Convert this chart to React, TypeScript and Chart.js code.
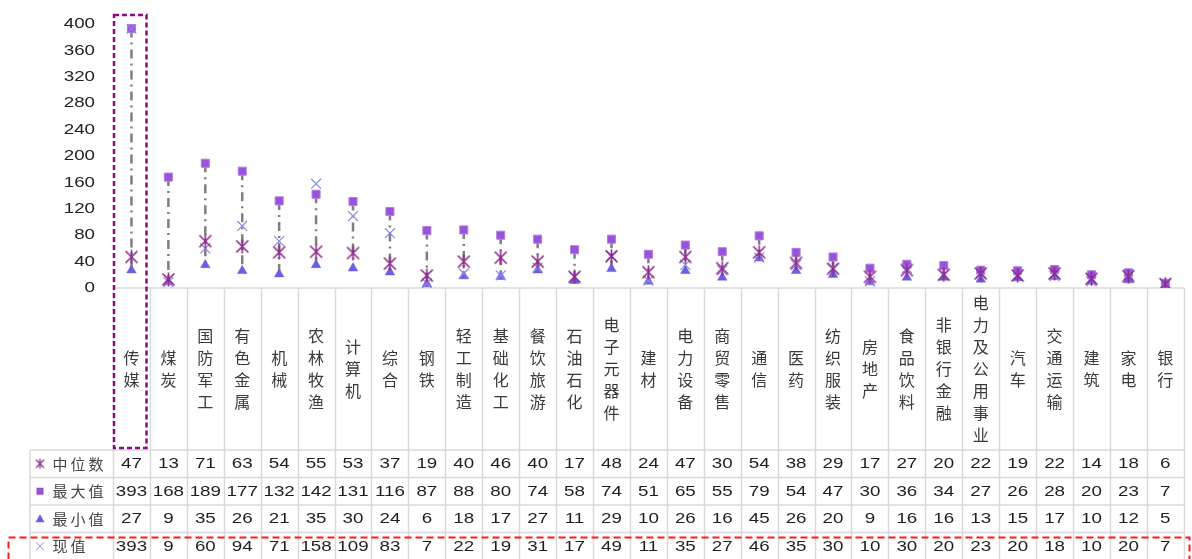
import React, { useEffect, useRef } from "react";
import { Chart, registerables } from "chart.js";

Chart.register(...registerables);

const categories = ["传媒","煤炭","国防军工","有色金属","机械","农林牧渔","计算机","综合","钢铁","轻工制造","基础化工","餐饮旅游","石油石化","电子元器件","建材","电力设备","商贸零售","通信","医药","纺织服装","房地产","食品饮料","非银行金融","电力及公用事业","汽车","交通运输","建筑","家电","银行"];
const medianVals = [47,13,71,63,54,55,53,37,19,40,46,40,17,48,24,47,30,54,38,29,17,27,20,22,19,22,14,18,6];
const maxVals = [393,168,189,177,132,142,131,116,87,88,80,74,58,74,51,65,55,79,54,47,30,36,34,27,26,28,20,23,7];
const minVals = [27,9,35,26,21,35,30,24,6,18,17,27,11,29,10,26,16,45,26,20,9,16,16,13,15,17,10,12,5];
const currentVals = [393,9,60,94,71,158,109,83,7,22,19,31,17,49,11,35,27,46,35,30,10,30,20,23,20,18,10,20,7];
const seriesNames = ["中位数","最大值","最小值","现值"];
const yTicks = [0,40,80,120,160,200,240,280,320,360,400];

const STAR_COLOR = "#8f2a8c";
const SQUARE_COLOR = "#9b52da";
const TRI_COLOR = "#6f5ce0";
const CROSS_COLOR = "#8a8ae6";
const GRID = "#d9d9d9";

function makeStar(size: number, lw: number): HTMLCanvasElement {
  const c = document.createElement("canvas");
  c.width = size; c.height = size;
  const g = c.getContext("2d")!;
  g.strokeStyle = STAR_COLOR; g.lineWidth = lw; g.lineCap = "butt";
  const m = size / 2, d = size / 2 - 1.5;
  g.beginPath();
  g.moveTo(m - d, m - d); g.lineTo(m + d, m + d);
  g.moveTo(m + d, m - d); g.lineTo(m - d, m + d);
  g.moveTo(m, 0.5); g.lineTo(m, size - 0.5);
  g.stroke();
  return c;
}

function stretchText(ctx: CanvasRenderingContext2D, text: string, x: number, y: number, align: "center" | "right", sx: number) {
  ctx.save();
  ctx.translate(x, y);
  ctx.scale(sx, 1);
  ctx.textAlign = align;
  ctx.textBaseline = "middle";
  ctx.fillText(text, 0, 0);
  ctx.restore();
}

export default function App() {
  const ref = useRef<HTMLCanvasElement>(null);
  useEffect(() => {
    const canvas = ref.current!;
    const star = makeStar(15, 1.6);
    const smallStar = makeStar(11, 1.3);

    const hiLowPlugin = {
      id: "hilow",
      beforeDatasetsDraw(chart: any) {
        const ctx = chart.ctx as CanvasRenderingContext2D;
        const xs = chart.scales.x, ys = chart.scales.y;
        ctx.save();
        ctx.strokeStyle = "#7f7f7f";
        ctx.lineWidth = 2.5;
        ctx.setLineDash([9, 5, 2, 5]);
        for (let i = 0; i < categories.length; i++) {
          const x = xs.getPixelForValue(i);
          ctx.beginPath();
          ctx.moveTo(x, ys.getPixelForValue(maxVals[i]));
          ctx.lineTo(x, ys.getPixelForValue(minVals[i]));
          ctx.stroke();
        }
        ctx.restore();
      },
    };

    const tablePlugin = {
      id: "table",
      beforeDatasetsDraw(chart: any) {
        const ctx = chart.ctx as CanvasRenderingContext2D;
        const xs = chart.scales.x, ys = chart.scales.y;
        const area = chart.chartArea;
        const n = categories.length;
        const w = (area.right - area.left) / n;
        const bottom = area.bottom;
        const rowTop = 450;
        const rowH = 27.5;
        const tableLeft = 30;
        ctx.save();
        // y tick labels
        ctx.fillStyle = "#222";
        ctx.font = "15px 'Liberation Sans', Arial, sans-serif";
        for (const v of yTicks) {
          stretchText(ctx, String(v), 95, ys.getPixelForValue(v), "right", 1.25);
        }
        // grid lines
        ctx.strokeStyle = GRID;
        ctx.lineWidth = 1.5;
        ctx.beginPath();
        ctx.moveTo(area.left, bottom); ctx.lineTo(area.right, bottom);
        for (let i = 0; i <= n; i++) {
          const x = Math.round(area.left + i * w) + 0.5;
          ctx.moveTo(x, bottom); ctx.lineTo(x, 560);
        }
        ctx.moveTo(tableLeft, rowTop); ctx.lineTo(tableLeft, 560);
        for (let r = 0; r < 4; r++) {
          const y = rowTop + r * rowH;
          ctx.moveTo(tableLeft, y); ctx.lineTo(area.right, y);
        }
        ctx.stroke();
        // category labels (vertical)
        ctx.fillStyle = "#3a3a3a";
        ctx.font = "16px 'Noto Sans CJK SC', sans-serif";
        ctx.textAlign = "center";
        ctx.textBaseline = "middle";
        const midY = (bottom + rowTop) / 2;
        for (let i = 0; i < n; i++) {
          const x = xs.getPixelForValue(i);
          const chars = Array.from(categories[i]);
          chars.forEach((ch, k) => {
            ctx.fillText(ch, x, midY + (k - (chars.length - 1) / 2) * 22);
          });
        }
        // table values
        const rows = [medianVals, maxVals, minVals, currentVals];
        ctx.fillStyle = "#1e1e1e";
        ctx.font = "15px 'Liberation Sans', Arial, sans-serif";
        rows.forEach((vals, r) => {
          const cy = rowTop + r * rowH + rowH / 2 + 0.5;
          vals.forEach((v, i) => {
            stretchText(ctx, String(v), xs.getPixelForValue(i), cy, "center", 1.25);
          });
        });
        // legend column
        ctx.font = "15px 'Noto Sans CJK SC', sans-serif";
        ctx.fillStyle = "#444";
        seriesNames.forEach((name, r) => {
          const cy = rowTop + r * rowH + rowH / 2;
          Array.from(name).forEach((ch, k) => {
            ctx.textAlign = "center";
            ctx.fillText(ch, 60 + k * 18, cy + 0.5);
          });
          const mx = 40;
          if (r === 0) {
            ctx.drawImage(smallStar, mx - 5.5, cy - 5.5);
          } else if (r === 1) {
            ctx.fillStyle = SQUARE_COLOR;
            ctx.fillRect(mx - 3.5, cy - 3.5, 7, 7);
            ctx.fillStyle = "#444";
          } else if (r === 2) {
            ctx.fillStyle = TRI_COLOR;
            ctx.beginPath();
            ctx.moveTo(mx, cy - 4.5); ctx.lineTo(mx + 4.5, cy + 3.5); ctx.lineTo(mx - 4.5, cy + 3.5);
            ctx.closePath(); ctx.fill();
            ctx.fillStyle = "#444";
          } else {
            ctx.strokeStyle = CROSS_COLOR;
            ctx.lineWidth = 1;
            ctx.beginPath();
            ctx.moveTo(mx - 4, cy - 4); ctx.lineTo(mx + 4, cy + 4);
            ctx.moveTo(mx + 4, cy - 4); ctx.lineTo(mx - 4, cy + 4);
            ctx.stroke();
          }
        });
        ctx.restore();
      },
      afterDatasetsDraw(chart: any) {
        const ctx = chart.ctx as CanvasRenderingContext2D;
        ctx.save();
        ctx.lineWidth = 2.5;
        ctx.strokeStyle = "#8b0a8b";
        ctx.setLineDash([5, 3]);
        ctx.strokeRect(114, 15, 32.5, 433);
        ctx.strokeStyle = "#ff1a1a";
        ctx.lineWidth = 2;
        ctx.setLineDash([7, 4]);
        ctx.strokeRect(8.5, 537.5, 1181, 40);
        ctx.restore();
      },
    };

    const chart = new Chart(canvas, {
      type: "line",
      data: {
        labels: categories,
        datasets: [
          { label: seriesNames[0], data: medianVals, showLine: false, pointStyle: star as any, pointRadius: 7, borderColor: STAR_COLOR, backgroundColor: STAR_COLOR },
          { label: seriesNames[3], data: currentVals, showLine: false, pointStyle: "crossRot", pointRadius: 7, borderWidth: 1.2, pointBorderWidth: 1.2, borderColor: CROSS_COLOR, backgroundColor: CROSS_COLOR },
          { label: seriesNames[1], data: maxVals, showLine: false, pointStyle: "rect", pointRadius: 5.7, pointBorderWidth: 1, borderColor: "#b07ee6", backgroundColor: SQUARE_COLOR },
          { label: seriesNames[2], data: minVals, showLine: false, pointStyle: "triangle", pointRadius: 5.5, pointBorderWidth: 0.5, borderColor: TRI_COLOR, backgroundColor: TRI_COLOR },
        ],
      },
      options: {
        responsive: false,
        animation: false,
        devicePixelRatio: 1,
        layout: { padding: { left: 0, top: 24, right: 7, bottom: 271 } },
        plugins: { legend: { display: false }, tooltip: { enabled: false } },
        scales: {
          x: { type: "category", offset: true, display: false },
          y: {
            type: "linear", min: 0, max: 400,
            ticks: { stepSize: 40, display: false },
            grid: { display: false },
            border: { display: false },
            afterFit: (s: any) => { s.width = 113; },
          },
        },
      },
      plugins: [tablePlugin, hiLowPlugin],
    });
    return () => chart.destroy();
  }, []);

  return (
    <div style={{ position: "fixed", left: 0, top: 0, width: 1192, height: 559, background: "#fff" }}>
      <canvas ref={ref} width={1192} height={559} style={{ display: "block", width: 1192, height: 559 }} />
    </div>
  );
}
